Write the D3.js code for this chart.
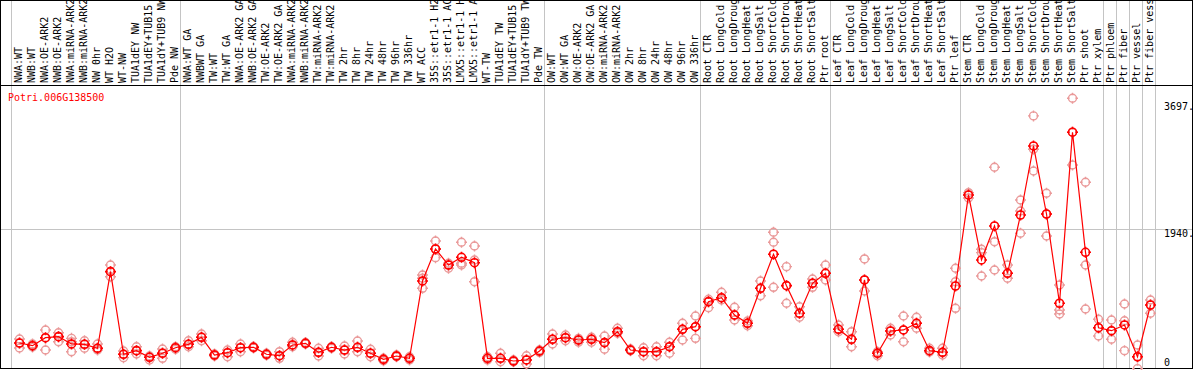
<!DOCTYPE html>
<html>
<head>
<meta charset="utf-8">
<script src="https://cdn.jsdelivr.net/npm/d3@7"></script>
<style>
  body { margin: 0; background: #fff; }
  svg { display: block; font-family: "DejaVu Sans Mono", monospace; font-size: 10px; }
</style>
</head>
<body>
<div id="chart"></div>
<script>
const gene = "Potri.006G138500";

const samples = [
  "NWA:WT", "NWB:WT", "NWA:OE-ARK2", "NWB:OE-ARK2", "NWA:miRNA-ARK2", "NWB:miRNA-ARK2",
  "NW 0hr", "WT H2O", "WT-NW", "TUA1dEY NW", "TUA1dEY+TUB15 NW", "TUA1dY+TUB9 NW", "Pde NW",
  "NWA:WT GA", "NWBWT GA", "TW:WT", "TW:WT GA", "NWA:OE-ARK2 GA", "NWB:OE-ARK2 GA",
  "TW:OE-ARK2", "TW:OE-ARK2 GA", "NWA:miRNA-ARK2", "NWB:miRNA-ARK2", "TW:miRNA-ARK2",
  "TW:miRNA-ARK2", "TW 2hr", "TW 8hr", "TW 24hr", "TW 48hr", "TW 96hr", "TW 336hr",
  "WT ACC", "35S::etr1-1 H2O", "35S::etr1-1 ACC", "LMX5::etr1-1 H2O", "LMX5::etr1-1 ACC",
  "WT-TW", "TUA1dEY TW", "TUA1dEY+TUB15 TW", "TUA1dY+TUB9 TW", "Pde TW",
  "OW:WT", "OW:WT GA", "OW:OE-ARK2", "OW:OE-ARK2 GA", "OW:miRNA-ARK2", "OW:miRNA-ARK2",
  "OW 2hr", "OW 8hr", "OW 24hr", "OW 48hr", "OW 96hr", "OW 336hr",
  "Root CTR", "Root LongCold", "Root LongDrought", "Root LongHeat", "Root LongSalt",
  "Root ShortCold", "Root ShortDrought", "Root ShortHeat", "Root ShortSalt", "Ptr root",
  "Leaf CTR", "Leaf LongCold", "Leaf LongDrought", "Leaf LongHeat", "Leaf LongSalt",
  "Leaf ShortCold", "Leaf ShortDrought", "Leaf ShortHeat", "Leaf ShortSalt", "Ptr leaf",
  "Stem CTR", "Stem LongCold", "Stem LongDrought", "Stem LongHeat", "Stem LongSalt",
  "Stem ShortCold", "Stem ShortDrought", "Stem ShortHeat", "Stem ShortSalt", "Ptr shoot",
  "Ptr xylem", "Ptr phloem", "Ptr fiber", "Ptr vessel", "Ptr fiber vessel"
];

// number of samples in each block between grey separators
const groupSizes = [13, 28, 12, 10, 10, 11, 1, 1, 1, 1];

// mean expression per sample
const means = [
  360, 323, 434, 448, 347, 342, 287, 1349, 204, 254, 162, 218, 295,
  342, 439, 194, 226, 295, 301, 204, 184, 333, 356, 231, 301, 263, 301, 218, 134, 180, 148,
  1220, 1663, 1441, 1548, 1473, 148, 148, 111, 125, 249,
  412, 434, 402, 412, 365, 517, 263, 240, 240, 309, 550, 586,
  933, 988, 748, 633, 1118, 1590, 1155, 772, 1188, 1326,
  550, 412, 1234, 218, 527, 541, 633, 254, 231, 1150,
  2412, 1511, 1982, 1326, 2134, 3091, 2148, 911, 3281, 1617, 572,
  531, 610, 170, 887
];

// individual replicates per sample
const reps = [
  [416, 291, 360], [333, 305, 347], [541, 263, 430], [503, 378, 448], [425, 240, 378],
  [392, 287, 342], [347, 263, 287], [1441, 1279, 1349], [249, 157, 204], [309, 208, 254],
  [180, 125, 162], [277, 148, 222], [309, 273, 295],
  [392, 309, 342], [485, 392, 439], [208, 180, 194], [263, 170, 226], [347, 240, 295],
  [312, 291, 301], [218, 190, 204], [240, 148, 184], [370, 309, 333], [367, 347, 356],
  [287, 180, 231], [309, 287, 301], [319, 208, 263], [388, 240, 301], [273, 170, 218],
  [148, 115, 134], [194, 170, 180], [170, 125, 148],
  [1303, 1118, 1257], [1774, 1543, 1663], [1396, 1465, 1441], [1756, 1441, 1465],
  [1705, 1511, 1210], [170, 125, 148], [218, 101, 148], [125, 101, 111], [184, 69, 125],
  [263, 231, 249],
  [485, 347, 412], [471, 392, 434], [425, 370, 402], [439, 370, 412], [457, 273, 365],
  [564, 495, 517], [277, 254, 263], [295, 184, 240], [309, 184, 240], [370, 218, 309],
  [633, 402, 550], [735, 425, 586],
  [966, 850, 933], [1063, 956, 988], [855, 679, 748], [665, 600, 633], [1220, 1016, 1118],
  [1895, 1756, 1132], [1418, 911, 1155], [863, 717, 772], [1247, 1132, 1188],
  [1441, 1234, 1326],
  [610, 517, 550], [517, 309, 412], [1525, 1081, 1234], [240, 184, 218], [564, 471, 527],
  [735, 378, 541], [717, 564, 633], [287, 236, 254], [287, 194, 231], [1396, 1210, 841],
  [2443, 2370, 2412], [1659, 1612, 1289], [2796, 1764, 1372], [1441, 1257, 1326],
  [2342, 2190, 1881], [3507, 3045, 2744], [2435, 1843, 2148], [1164, 818, 762],
  [3752, 2827, 3281], [2588, 1441, 832], [689, 457, 572],
  [679, 412, 531], [901, 669, 254], [333, 5, 170], [956, 772, 887]
];

const yTicks = [0, 1940, 3697];
const yTickLabels = ["0", "1940.", "3697."];
const gridValues = [1940];

const W = 1194, H = 370;
const svg = d3.select("#chart").append("svg").attr("width", W).attr("height", H);

const x = d3.scaleBand().domain(d3.range(samples.length)).range([11, 1155]);
const y = d3.scaleLinear().domain([0, 3697]).range([369, 102.2]);
const px = (i) => x(i) + 8.5;

// group separators
const bounds = [0];
groupSizes.forEach((n) => bounds.push(bounds[bounds.length - 1] + n));
svg.append("g")
  .selectAll("line")
  .data(bounds)
  .join("line")
  .attr("x1", (b) => (b < samples.length ? x(b) : x(samples.length - 1) + x.bandwidth()) + 0.5)
  .attr("x2", (b) => (b < samples.length ? x(b) : x(samples.length - 1) + x.bandwidth()) + 0.5)
  .attr("y1", 0)
  .attr("y2", 368)
  .attr("stroke", "#c4c4c4");

// horizontal grid
svg.append("g")
  .selectAll("line")
  .data(gridValues)
  .join("line")
  .attr("x1", 1)
  .attr("x2", 1192)
  .attr("y1", (d) => Math.round(y(d)) + 0.5)
  .attr("y2", (d) => Math.round(y(d)) + 0.5)
  .attr("stroke", "#c4c4c4");

// frame + header separator
svg.append("rect")
  .attr("x", 0.5).attr("y", 0.5)
  .attr("width", 1192).attr("height", 368)
  .attr("fill", "none").attr("stroke", "#000");
svg.append("line")
  .attr("x1", 0).attr("x2", 1193)
  .attr("y1", 85.5).attr("y2", 85.5)
  .attr("stroke", "#000");

// sample labels (vertical)
svg.append("g")
  .selectAll("text")
  .data(samples)
  .join("text")
  .attr("transform", (d, i) => `translate(${x(i) + 10.5},83) rotate(-90)`)
  .attr("fill", "#000")
  .text((d) => d);

// y labels on the right
svg.append("g")
  .selectAll("text")
  .data(yTicks)
  .join("text")
  .attr("x", 1164)
  .attr("y", (d) => Math.min(y(d) + 8, 366))
  .attr("fill", "#000")
  .text((d, i) => yTickLabels[i]);

// gene name
svg.append("text")
  .attr("x", 8)
  .attr("y", 101)
  .attr("fill", "#ff0000")
  .text(gene);

function marker(g, r) {
  g.append("circle").attr("r", r).attr("fill", "none");
  g.append("path")
    .attr("d", `M0,${-r - 1.5}V${-r + 1}M0,${r - 1}V${r + 1.5}M${-r - 1.5},0H${-r + 1}M${r - 1},0H${r + 1.5}`);
}

// replicates
const repPts = [];
reps.forEach((arr, i) => arr.forEach((v) => repPts.push({ i, v })));
svg.append("g")
  .attr("stroke", "#ea9a9a")
  .attr("stroke-width", 1.4)
  .attr("fill", "none")
  .selectAll("g")
  .data(repPts)
  .join("g")
  .attr("transform", (d) => `translate(${px(d.i)},${y(d.v)})`)
  .each(function () { marker(d3.select(this), 4); });

// mean line
svg.append("path")
  .datum(means)
  .attr("fill", "none")
  .attr("stroke", "#ff0000")
  .attr("stroke-width", 1.2)
  .attr("d", d3.line().x((d, i) => px(i)).y((d) => y(d)));

// mean markers
svg.append("g")
  .attr("stroke", "#ff0000")
  .attr("stroke-width", 1.6)
  .attr("fill", "none")
  .selectAll("g")
  .data(means)
  .join("g")
  .attr("transform", (d, i) => `translate(${px(i)},${y(d)})`)
  .each(function () { marker(d3.select(this), 4); });
</script>
</body>
</html>
